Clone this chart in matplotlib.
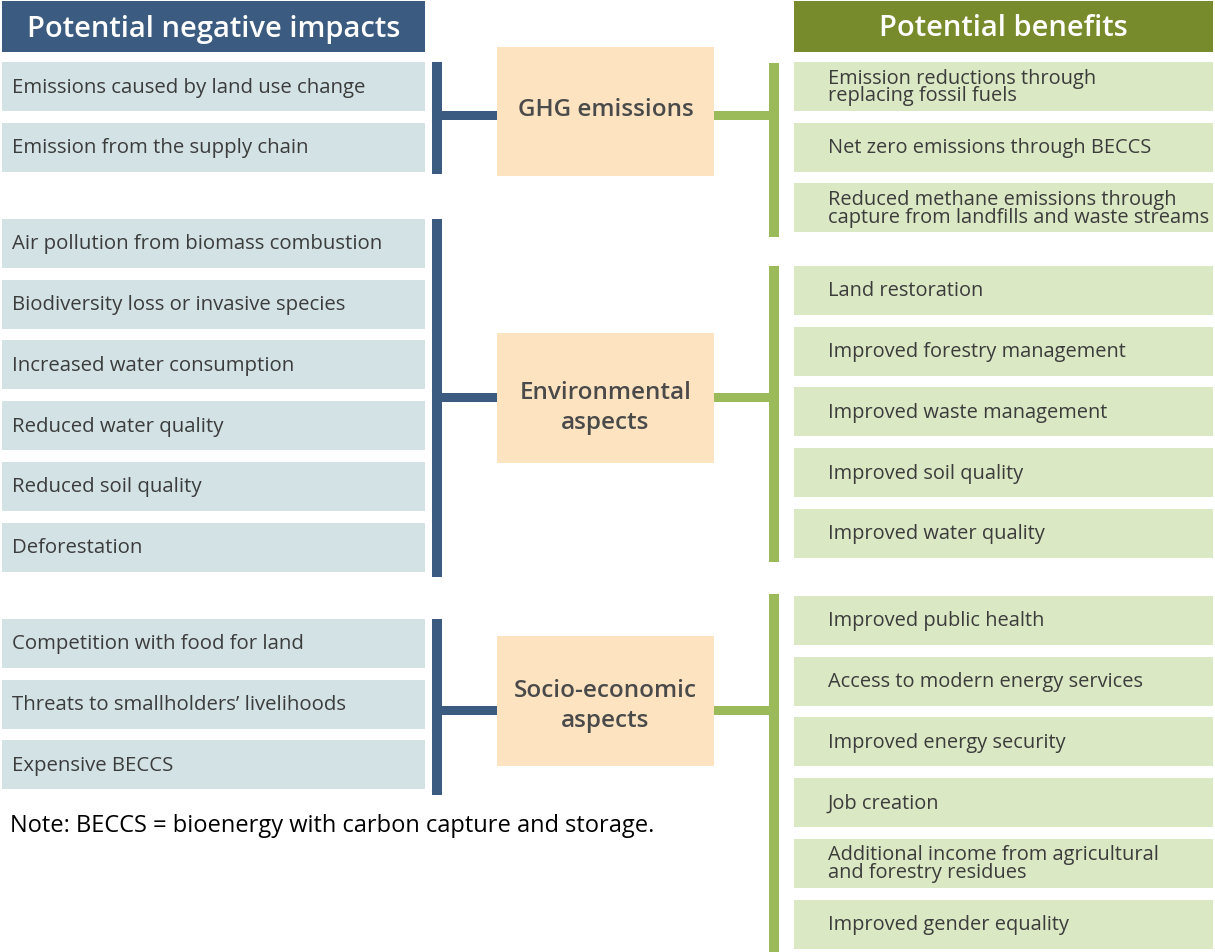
import matplotlib
matplotlib.use('Agg')
import matplotlib.pyplot as plt
from matplotlib.patches import Rectangle

plt.rcParams['font.family'] = ['Open Sans', 'DejaVu Sans']

# labels
headers = ['Potential negative impacts', 'Potential benefits']
centre_labels = ['GHG emissions', 'Environmental\naspects', 'Socio-economic\naspects']

neg_ghg = ['Emissions caused by land use change', 'Emission from the supply chain']
neg_env = ['Air pollution from biomass combustion', 'Biodiversity loss or invasive species',
           'Increased water consumption', 'Reduced water quality',
           'Reduced soil quality', 'Deforestation']
neg_soc = ['Competition with food for land', "Threats to smallholders\u2019 livelihoods",
           'Expensive BECCS']

ben_ghg = ['Emission reductions through\nreplacing fossil fuels',
           'Net zero emissions through BECCS',
           'Reduced methane emissions through\ncapture from landfills and waste streams']
ben_env = ['Land restoration', 'Improved forestry management', 'Improved waste management',
           'Improved soil quality', 'Improved water quality']
ben_soc = ['Improved public health', 'Access to modern energy services',
           'Improved energy security', 'Job creation',
           'Additional income from agricultural\nand forestry residues',
           'Improved gender equality']

note = 'Note: BECCS = bioenergy with carbon capture and storage.'

# colours
dark_blue = '#3b5b80'
light_blue = '#d3e2e5'
olive = '#778b2c'
bar_green = '#9bba5a'
light_green = '#dae8c4'
peach = '#fde3c0'
txt = '#3c3c3c'

# layout (pixels)
W, H = 1215, 953
pitch, box_h = 60.7, 49
left_x0, left_x1 = 2, 425
right_x0, right_x1 = 794, 1213
lbar_x0, lbar_x1 = 432, 442
rbar_x0, rbar_x1 = 769, 779
cbox_x0, cbox_x1 = 497, 714

groups = [
    dict(neg=neg_ghg, ben=ben_ghg, ly=63, ry=63, cy=(48, 177), conn=116, toff=-2,
         lbar=(63, 175), rbar=(64, 238)),
    dict(neg=neg_env, ben=ben_env, ly=220, ry=267, cy=(334, 464), conn=398, toff=9,
         lbar=(220, 578), rbar=(267, 563)),
    dict(neg=neg_soc, ben=ben_soc, ly=620, ry=597, cy=(637, 767), conn=711, toff=4,
         lbar=(620, 796), rbar=(595, 953)),
]

fig = plt.figure(figsize=(W / 100, H / 100), dpi=100)
ax = fig.add_axes([0, 0, 1, 1])
ax.set_xlim(0, W)
ax.set_ylim(H, 0)
ax.axis('off')

# headers
ax.add_patch(Rectangle((left_x0, 2), left_x1 - left_x0, 51, color=dark_blue, lw=0))
ax.text((left_x0 + left_x1) / 2, 29, headers[0], color='white', fontsize=21,
        fontweight='semibold', ha='center', va='center')
ax.add_patch(Rectangle((right_x0, 2), right_x1 - right_x0, 51, color=olive, lw=0))
ax.text((right_x0 + right_x1) / 2, 29, headers[1], color='white', fontsize=21,
        fontweight='semibold', ha='center', va='center')

for g, label in zip(groups, centre_labels):
    # negative side
    for i, item in enumerate(g['neg']):
        y = g['ly'] + i * pitch
        ax.add_patch(Rectangle((left_x0, y), left_x1 - left_x0, box_h, color=light_blue, lw=0))
        ax.text(12, y + box_h / 2, item, color=txt, fontsize=14.7, va='center', ha='left')
    # benefits side
    for i, item in enumerate(g['ben']):
        y = g['ry'] + i * pitch
        ax.add_patch(Rectangle((right_x0, y), right_x1 - right_x0, box_h, color=light_green, lw=0))
        ax.text(828, y + box_h / 2, item, color=txt, fontsize=14.4, va='center', ha='left',
                linespacing=0.85)
    # brackets
    ax.add_patch(Rectangle((lbar_x0, g['lbar'][0]), lbar_x1 - lbar_x0,
                           g['lbar'][1] - g['lbar'][0], color=dark_blue, lw=0))
    ax.add_patch(Rectangle((lbar_x1, g['conn'] - 4.5), cbox_x0 - lbar_x1, 9,
                           color=dark_blue, lw=0))
    ax.add_patch(Rectangle((rbar_x0, g['rbar'][0]), rbar_x1 - rbar_x0,
                           g['rbar'][1] - g['rbar'][0], color=bar_green, lw=0))
    ax.add_patch(Rectangle((cbox_x1, g['conn'] - 4.5), rbar_x0 - cbox_x1, 9,
                           color=bar_green, lw=0))
    # centre box
    y0, y1 = g['cy']
    ax.add_patch(Rectangle((cbox_x0, y0), cbox_x1 - cbox_x0, y1 - y0, color=peach, lw=0))
    ax.text((cbox_x0 + cbox_x1) / 2, (y0 + y1) / 2 + g['toff'], label, color='#4a4a4a',
            fontsize=17.5, fontweight='semibold', ha='center', va='center', linespacing=1.32)

ax.text(10, 826, note, color='black', fontsize=17, ha='left', va='center')

fig.savefig('out.png', dpi=100)
